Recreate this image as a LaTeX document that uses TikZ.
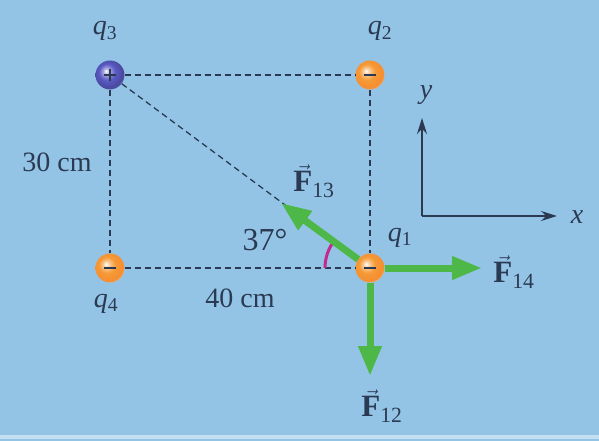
\documentclass[tikz,border=0pt]{standalone}
\usepackage{fontspec}
\setmainfont{Liberation Serif}
\usepackage{tikz}
\usetikzlibrary{positioning,calc,arrows.meta}
\definecolor{bgblue}{HTML}{93C4E6}
\definecolor{inkblue}{HTML}{2B3A52}
\definecolor{forcegreen}{HTML}{4DB848}
\definecolor{arcpink}{HTML}{C42A8E}
\definecolor{ballorange}{HTML}{F59A36}
\definecolor{ballblue}{HTML}{5A5AC4}
\pgfdeclareradialshading{orangeball}{\pgfpoint{-7bp}{7bp}}{color(0bp)=(white); color(6bp)=(ballorange!55!white); color(14bp)=(ballorange); color(26bp)=(ballorange!92!red); color(31bp)=(ballorange!50!white); color(50bp)=(ballorange!50!white)}
\pgfdeclareradialshading{blueball}{\pgfpoint{-7bp}{7bp}}{color(0bp)=(white); color(6bp)=(ballblue!55!white); color(14bp)=(ballblue); color(26bp)=(ballblue!80!black); color(31bp)=(ballblue!60!bgblue); color(50bp)=(ballblue!60!bgblue)}
\newcommand{\qlab}[1]{\textit{q}\textsubscript{#1}}
\newcommand{\flab}[1]{$\vec{\hbox{\bfseries F}}$\textsubscript{#1}}

\begin{document}
\begin{tikzpicture}[x=1pt, y=-1pt, font=\fontsize{28}{32}\selectfont,
    charge/.style={circle, minimum size=29pt, inner sep=0pt},
    minusbar/.style={path picture={\draw[inkblue, line width=2.2pt] ([xshift=-6pt]path picture bounding box.center) -- ([xshift=6pt]path picture bounding box.center);}},
    negcharge/.style={charge, shading=orangeball, minusbar},
    poscharge/.style={charge, shading=blueball, path picture={
        \draw[inkblue, line width=1.6pt] ([xshift=-6pt]path picture bounding box.center) -- ([xshift=6pt]path picture bounding box.center);
        \draw[inkblue, line width=1.6pt] ([yshift=-6pt]path picture bounding box.center) -- ([yshift=6pt]path picture bounding box.center);}},
    link/.style={draw=inkblue, line width=1.3pt, dash pattern=on 6pt off 4pt},
    force/.style={draw=forcegreen, line width=7pt, -{Triangle[length=30pt,width=22pt]}},
    axis/.style={draw=inkblue, line width=1.5pt, -{Stealth[length=16pt,width=10pt]}},
    lbl/.style={text=inkblue, inner sep=0pt},
    flbl/.style={lbl, font=\fontsize{31}{34}\selectfont}]

    % Background
    \useasboundingbox (0,0) rectangle (599,441);
    \fill[bgblue] (0,0) rectangle (599,441);
    \fill[bgblue!55!white] (0,435) rectangle (599,439);

    % Charges
    \node [poscharge] (q3) at (110,75) {};
    \node [negcharge] (q2) at (370,75) {};
    \node [negcharge] (q4) at (110,268) {};
    \node [negcharge] (q1) at (370,268) {};

    % Dashed sides and diagonal
    \draw [link] (q3) -- (q2);
    \draw [link] (q2) -- (q1);
    \draw [link] (q3) -- (q4);
    \draw [link] (q4) -- (q1);
    \draw [link] (q3) -- (q1);

    % Charge labels
    \node [lbl] (q3lbl) at (105,31) {\qlab{3}};
    \node [lbl] (q2lbl) at (380,31) {\qlab{2}};
    \node [lbl] (q4lbl) at (106,304) {\qlab{4}};
    \node [lbl] (q1lbl) at (400,238) {\qlab{1}};

    % Distances and angle
    \node [lbl] (dy) at (57,162) {30 cm};
    \node [lbl] (dx) at (240,298) {40 cm};
    \node [lbl, font=\fontsize{32}{36}\selectfont] (ang) at (265,240) {37°};
    \draw [arcpink, line width=3pt] ($(q1)+(-45,0)$) arc [start angle=180, end angle=143, radius=45pt];

    % Forces on q1
    \coordinate (f13) at (281,203);
    \coordinate (f14) at (482,268);
    \coordinate (f12) at (370,376);
    \draw [force] (q1) -- (f13);
    \draw [force] (q1) -- (f14);
    \draw [force] (q1) -- (f12);
    \node [flbl] (f13lbl) at (314,181) {\flab{13}};
    \node [flbl] (f14lbl) at (514,272) {\flab{14}};
    \node [flbl] (f12lbl) at (382,406) {\flab{12}};

    % Axes
    \coordinate (origin) at (422,216);
    \coordinate (ytip) at (422,118);
    \coordinate (xtip) at (557,216);
    \draw [axis] (origin) -- (ytip);
    \draw [axis] (origin) -- (xtip);
    \node [lbl] (ylbl) at (426,95) {\textit{y}};
    \node [lbl] (xlbl) at (577,217) {\textit{x}};

\end{tikzpicture}
\end{document}
